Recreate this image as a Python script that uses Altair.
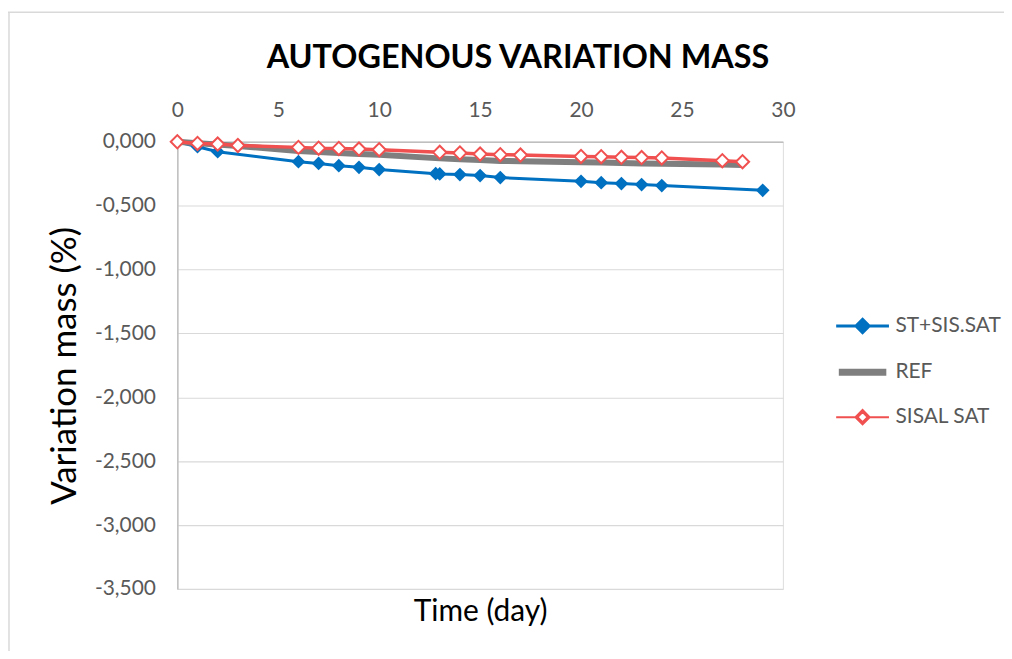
import altair as alt
import pandas as pd

# ---- data ----
days_st = [0, 1, 2, 6, 7, 8, 9, 10, 12.8, 13, 14, 15, 16, 20, 21, 22, 23, 24, 29]
mass_st = [0.0, -0.039, -0.078, -0.156, -0.170, -0.187, -0.200, -0.218, -0.250, -0.252,
           -0.257, -0.265, -0.280, -0.310, -0.320, -0.327, -0.335, -0.343, -0.380]

days_ref = [0, 1, 2, 3, 6, 7, 8, 9, 10, 13, 14, 15, 16, 17, 20, 21, 22, 23, 24, 27, 28]
mass_ref = [0.0, -0.012, -0.022, -0.033, -0.073, -0.080, -0.088, -0.095, -0.102, -0.130,
            -0.137, -0.143, -0.150, -0.153, -0.160, -0.163, -0.167, -0.170, -0.173, -0.178, -0.182]

days_sisal = [0, 1, 2, 3, 6, 7, 8, 9, 10, 13, 14, 15, 16, 17, 20, 21, 22, 23, 24, 27, 28]
mass_sisal = [0.0, -0.013, -0.018, -0.029, -0.044, -0.050, -0.052, -0.057, -0.062, -0.083,
              -0.088, -0.096, -0.101, -0.104, -0.115, -0.117, -0.122, -0.124, -0.127, -0.148, -0.156]

series_names = ["ST+SIS.SAT", "REF", "SISAL SAT"]
series_colors = ["#0070C0", "#7F7F7F", "#F0504F"]
legend_fills = ["#0070C0", "#FFFFFF", "#FFFFFF"]
legend_widths = [3, 7, 2]
legend_shapes = [
    "M-1,0H1M0,-0.25L0.25,0L0,0.25L-0.25,0Z",
    "M-0.9,0H0.9",
    "M-1,0H-0.27M0.27,0H1M0,-0.27L0.27,0L0,0.27L-0.27,0ZM0,-0.19L-0.19,0L0,0.19L0.19,0Z",
]
x_ticks = [0, 5, 10, 15, 20, 25, 30]
y_ticks = [0, -0.5, -1.0, -1.5, -2.0, -2.5, -3.0, -3.5]

rows = []
for name, ds, ms in zip(series_names, [days_st, days_ref, days_sisal], [mass_st, mass_ref, mass_sisal]):
    for d, m in zip(ds, ms):
        rows.append({"series": name, "day": d, "mass": m})
df = pd.DataFrame(rows)

FONT = "Lato"
GREY_TXT = "#595959"

color_scale = alt.Scale(domain=series_names, range=series_colors)

x_enc = alt.X(
    "day:Q",
    scale=alt.Scale(domain=[0, 30], nice=False),
    axis=alt.Axis(
        orient="top", values=x_ticks, grid=False, ticks=False, labelFlush=False,
        domainColor="#BFBFBF", domainWidth=1.5,
        labelFont=FONT, labelFontSize=21, labelColor=GREY_TXT, labelPadding=21,
        title="Time (day)", titleFont=FONT, titleFontSize=30, titleFontWeight="normal",
        titleColor="#000000", titleX=304, titleY=472, titleBaseline="middle",
        titleAlign="center", titleAngle=0,
    ),
)
y_enc = alt.Y(
    "mass:Q",
    scale=alt.Scale(domain=[-3.5, 0], nice=False, zero=False),
    axis=alt.Axis(
        values=y_ticks, grid=True, gridColor="#D9D9D9", gridWidth=1.2, ticks=False,
        labelFlush=False,
        domainColor="#BFBFBF", domainWidth=1.5,
        labelFont=FONT, labelFontSize=21, labelColor=GREY_TXT, labelPadding=22,
        labelExpr="replace(replace(format(datum.value, '.3f'), '.', ','), '\u2212', '-')",
        title="Variation mass (%)", titleFont=FONT, titleFontSize=35, titleFontWeight="normal",
        titleColor="#000000", titlePadding=12,
    ),
)

legend = alt.Legend(
    orient="none", legendX=658, legendY=157, title=None,
    labelFont=FONT, labelFontSize=21, labelColor=GREY_TXT, labelLimit=200,
    symbolSize=2809, rowPadding=3.5, labelOffset=3, padding=0, symbolOpacity=1,
)
color_enc = alt.Color("series:N", scale=color_scale, legend=legend)

base = alt.Chart(df)

line_st = base.transform_filter("datum.series === 'ST+SIS.SAT'").mark_line(strokeWidth=3).encode(
    x=x_enc, y=y_enc, color=color_enc)
line_ref = base.transform_filter("datum.series === 'REF'").mark_line(strokeWidth=6).encode(
    x=x_enc, y=y_enc, color=color_enc)
line_sisal = base.transform_filter("datum.series === 'SISAL SAT'").mark_line(strokeWidth=3.5).encode(
    x=x_enc, y=y_enc, color=color_enc)

pts_st = base.transform_filter("datum.series === 'ST+SIS.SAT'").mark_point(
    shape="diamond", size=190, filled=True, opacity=1).encode(
    x=x_enc, y=y_enc, color=color_enc)
pts_sisal = base.transform_filter("datum.series === 'SISAL SAT'").mark_point(
    shape="diamond", size=175, filled=False, fill="white", fillOpacity=1, strokeWidth=2, opacity=1).encode(
    x=x_enc, y=y_enc, color=color_enc)

# layer that only feeds the legend (no rows pass the filter)
legend_layer = base.transform_filter("false").mark_point(size=2809, opacity=1, filled=False).encode(
    x=x_enc, y=y_enc, color=color_enc,
    fill=alt.Fill("series:N", scale=alt.Scale(domain=series_names, range=legend_fills), legend=legend),
    shape=alt.Shape("series:N", scale=alt.Scale(domain=series_names, range=legend_shapes), legend=legend),
    strokeWidth=alt.StrokeWidth("series:N", scale=alt.Scale(type="ordinal", domain=series_names, range=legend_widths), legend=legend),
)

# outer chart frame (decoration)
frame_df = pd.DataFrame({"k": [0]})
frame_top = alt.Chart(frame_df).mark_rule(color="#D9D9D9", strokeWidth=1.5).encode(
    x=alt.value(-170), x2=alt.value(840), y=alt.value(-130))
frame_left = alt.Chart(frame_df).mark_rule(color="#D9D9D9", strokeWidth=1.5).encode(
    x=alt.value(-169), y=alt.value(-130), y2=alt.value(520))

chart = alt.layer(
    frame_top, frame_left, line_st, pts_st, line_ref, line_sisal, pts_sisal, legend_layer
).properties(
    width=608, height=449,
    title=alt.TitleParams(
        "AUTOGENOUS VARIATION MASS", font=FONT, fontSize=32.5, fontWeight="bold",
        color="#000000", anchor="middle", frame="group", dx=38, offset=-89,
        baseline="alphabetic",
    ),
    autosize=alt.AutoSizeParams(type="none"),
    padding={"left": 170, "top": 133, "right": 222, "bottom": 61},
).configure_view(stroke=None).configure(background="white")

chart.save("out.html", embed_options={"renderer": "svg", "actions": False})
